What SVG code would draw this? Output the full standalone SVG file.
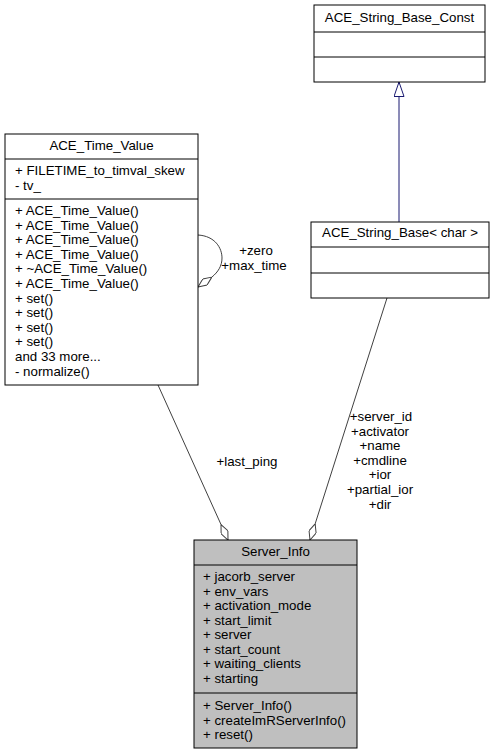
<svg xmlns="http://www.w3.org/2000/svg" width="493" height="755" viewBox="0 0 493 755">
<style>
text{font-family:"Liberation Sans",Arial,Helvetica,sans-serif;font-size:13.3px;fill:#000}
.c{text-anchor:middle}
.box{fill:#fff;stroke:#000;stroke-width:1}
.sel{fill:#bfbfbf;stroke:#000;stroke-width:1}
.sep{stroke:#000;stroke-width:1}
.agg{fill:none;stroke:#404040;stroke-width:1}
.inh{fill:none;stroke:#191970;stroke-width:1}
</style>
<defs>
<marker id="dia" viewBox="0 0 17 8" refX="17" refY="4" markerWidth="17" markerHeight="8" markerUnits="userSpaceOnUse" orient="auto">
<path d="M0,4 L8.5,0.3 L17,4 L8.5,7.7 Z" fill="#fff" stroke="#404040" stroke-width="1"/>
</marker>
<marker id="tri" viewBox="0 0 15 11" refX="15" refY="5.5" markerWidth="15" markerHeight="11" markerUnits="userSpaceOnUse" orient="auto">
<path d="M0.5,0.5 L15,5.5 L0.5,10.5 Z" fill="#fff" stroke="#191970" stroke-width="1"/>
</marker>
</defs>
<g id="connectors">
<path class="inh" d="M399,222 L399,82" marker-end="url(#tri)"/>
<path class="agg" d="M158,385 L228,540" marker-end="url(#dia)"/>
<path class="agg" d="M387,298 L310,540" marker-end="url(#dia)"/>
<path class="agg" d="M198,235 C215,236 222,248 222,258 C222,266 218,272 212,277 L198,287" marker-end="url(#dia)"/>
<text x="256" y="255" class="c">+zero</text>
<text x="254" y="270" class="c">+max_time</text>
<text x="247" y="466" class="c">+last_ping</text>
<text x="381" y="421" class="c">+server_id</text>
<text x="380" y="435.6" class="c">+activator</text>
<text x="380" y="450.2" class="c">+name</text>
<text x="380" y="464.8" class="c">+cmdline</text>
<text x="380" y="479.4" class="c">+ior</text>
<text x="380" y="494" class="c">+partial_ior</text>
<text x="380" y="508.6" class="c">+dir</text>
</g>
<g id="ACE_String_Base_Const">
<rect class="box" x="314" y="5" width="171" height="77"/>
<line class="sep" x1="314" y1="32" x2="485" y2="32"/>
<line class="sep" x1="314" y1="57" x2="485" y2="57"/>
<text x="399.5" y="22" class="c">ACE_String_Base_Const</text>
</g>
<g id="ACE_String_Base_char">
<rect class="box" x="311" y="222" width="178" height="76"/>
<line class="sep" x1="311" y1="247" x2="489" y2="247"/>
<line class="sep" x1="311" y1="273" x2="489" y2="273"/>
<text x="400" y="237" class="c">ACE_String_Base&lt; char &gt;</text>
</g>
<g id="ACE_Time_Value">
<rect class="box" x="5" y="134" width="193" height="251"/>
<line class="sep" x1="5" y1="159" x2="198" y2="159"/>
<line class="sep" x1="5" y1="199" x2="198" y2="199"/>
<text x="101.5" y="150" class="c">ACE_Time_Value</text>
<text x="15" y="175">+ FILETIME_to_timval_skew</text>
<text x="15" y="189.6">- tv_</text>
<text x="15" y="215">+ ACE_Time_Value()</text>
<text x="15" y="229.6">+ ACE_Time_Value()</text>
<text x="15" y="244.2">+ ACE_Time_Value()</text>
<text x="15" y="258.8">+ ACE_Time_Value()</text>
<text x="15" y="273.4">+ ~ACE_Time_Value()</text>
<text x="15" y="288">+ ACE_Time_Value()</text>
<text x="15" y="302.6">+ set()</text>
<text x="15" y="317.2">+ set()</text>
<text x="15" y="331.8">+ set()</text>
<text x="15" y="346.4">+ set()</text>
<text x="15" y="361">and 33 more...</text>
<text x="15" y="375.6">- normalize()</text>
</g>
<g id="Server_Info">
<rect class="sel" x="194" y="540" width="163" height="208"/>
<line class="sep" x1="194" y1="565" x2="357" y2="565"/>
<line class="sep" x1="194" y1="693" x2="357" y2="693"/>
<text x="275.5" y="556" class="c">Server_Info</text>
<text x="203" y="581">+ jacorb_server</text>
<text x="203" y="595.5">+ env_vars</text>
<text x="203" y="610">+ activation_mode</text>
<text x="203" y="624.5">+ start_limit</text>
<text x="203" y="639">+ server</text>
<text x="203" y="653.5">+ start_count</text>
<text x="203" y="668">+ waiting_clients</text>
<text x="203" y="682.5">+ starting</text>
<text x="203" y="710">+ Server_Info()</text>
<text x="203" y="724.5">+ createImRServerInfo()</text>
<text x="203" y="739">+ reset()</text>
</g>
</svg>
